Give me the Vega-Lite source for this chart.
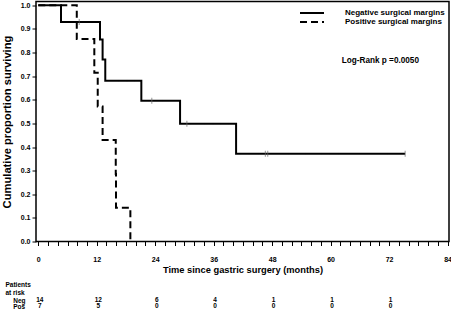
{
  "$schema": "https://vega.github.io/schema/vega-lite/v6.json",
  "padding": {"left": 0, "top": 0.5, "right": 0, "bottom": 0},
  "bounds": "flush",
  "spacing": 55.7,
  "config": {
    "font": "Liberation Sans",
    "view": {"stroke": null},
    "axis": {"labelFont": "Liberation Sans", "titleFont": "Liberation Sans", "labelFontWeight": "bold", "labelColor": "#000", "tickColor": "#000", "domainColor": "#000", "titleColor": "#000", "grid": false, "labelOverlap": false},
    "legend": {"labelFont": "Liberation Sans", "labelColor": "#000"}
  },
  "datasets": {
    "curves": [
      {"group": "Negative surgical margins", "month": 0, "surv": 1},
      {"group": "Negative surgical margins", "month": 4.66, "surv": 0.929},
      {"group": "Negative surgical margins", "month": 12.67, "surv": 0.855},
      {"group": "Negative surgical margins", "month": 13.2, "surv": 0.77},
      {"group": "Negative surgical margins", "month": 13.75, "surv": 0.681},
      {"group": "Negative surgical margins", "month": 21.15, "surv": 0.596},
      {"group": "Negative surgical margins", "month": 29.1, "surv": 0.498},
      {"group": "Negative surgical margins", "month": 40.6, "surv": 0.372},
      {"group": "Negative surgical margins", "month": 75.3, "surv": 0.372},
      {"group": "Positive surgical margins", "month": 0, "surv": 1},
      {"group": "Positive surgical margins", "month": 7.9, "surv": 0.857},
      {"group": "Positive surgical margins", "month": 11.5, "surv": 0.714},
      {"group": "Positive surgical margins", "month": 12.2, "surv": 0.571},
      {"group": "Positive surgical margins", "month": 13.2, "surv": 0.43},
      {"group": "Positive surgical margins", "month": 15.9, "surv": 0.286},
      {"group": "Positive surgical margins", "month": 15.95, "surv": 0.143},
      {"group": "Positive surgical margins", "month": 18.9, "surv": 0}
    ],
    "censors": [
      {"group": "Neg", "month": 8.4, "surv": 0.929},
      {"group": "Neg", "month": 23.3, "surv": 0.596},
      {"group": "Neg", "month": 30.5, "surv": 0.498},
      {"group": "Neg", "month": 46.6, "surv": 0.372},
      {"group": "Neg", "month": 47.1, "surv": 0.372},
      {"group": "Neg", "month": 75.3, "surv": 0.372}
    ],
    "risk": [
      {"group": "Neg", "month": 0, "n": 14},
      {"group": "Neg", "month": 12, "n": 12},
      {"group": "Neg", "month": 24, "n": 6},
      {"group": "Neg", "month": 36, "n": 4},
      {"group": "Neg", "month": 48, "n": 1},
      {"group": "Neg", "month": 60, "n": 1},
      {"group": "Neg", "month": 72, "n": 1},
      {"group": "Pos", "month": 0, "n": 7},
      {"group": "Pos", "month": 12, "n": 5},
      {"group": "Pos", "month": 24, "n": 0},
      {"group": "Pos", "month": 36, "n": 0},
      {"group": "Pos", "month": 48, "n": 0},
      {"group": "Pos", "month": 60, "n": 0},
      {"group": "Pos", "month": 72, "n": 0}
    ],
    "note": [
      {"label": "Log-Rank p =0.0050", "month": 62.3, "surv": 0.766}
    ]
  },
  "vconcat": [
    {
      "width": 413,
      "height": 240,
      "view": {"stroke": "#000", "strokeWidth": 1.5},
      "encoding": {
        "x": {
          "field": "month", "type": "quantitative",
          "scale": {"domain": [-0.47, 84.3], "nice": false, "zero": false},
          "axis": {
            "values": [0,2,4,6,8,10,12,14,16,18,20,22,24,26,28,30,32,34,36,38,40,42,44,46,48,50,52,54,56,58,60,62,64,66,68,70,72,74,76,78,80,82,84],
            "labelExpr": "datum.value % 12 === 0 ? datum.label : ''",
            "labelOverlap": false, "labelFlush": false,
            "tickSize": 4, "labelPadding": 9.5, "labelFontSize": 7,
            "domain": false,
            "title": "Time since gastric surgery (months)",
            "titleFontSize": 9.3, "titleFontWeight": "bold", "titlePadding": 3
          }
        },
        "y": {
          "field": "surv", "type": "quantitative",
          "scale": {"domain": [0, 1.016], "nice": false, "zero": false},
          "axis": {
            "values": [0,0.1,0.2,0.3,0.4,0.5,0.6,0.7,0.8,0.9,1],
            "format": ".1f",
            "labelOverlap": false,
            "tickSize": 4, "labelPadding": 2, "labelFontSize": 7,
            "domain": false,
            "title": "Cumulative proportion surviving",
            "titleFontSize": 11.2, "titleFontWeight": "bold", "titlePadding": 8
          }
        }
      },
      "layer": [
        {
          "data": {"name": "curves"},
          "mark": {"type": "line", "interpolate": "step-after", "strokeWidth": 2, "color": "#000"},
          "encoding": {
            "strokeDash": {
              "field": "group", "type": "nominal",
              "scale": {"domain": ["Negative surgical margins", "Positive surgical margins"], "range": [[1, 0], [7, 4]]},
              "legend": {
                "orient": "none", "legendX": 263, "legendY": 8, "title": null,
                "symbolType": "stroke", "symbolSize": 576, "symbolStrokeWidth": 2, "symbolStrokeColor": "#000",
                "labelFontSize": 8, "labelFontWeight": "bold", "labelOffset": 20, "clipHeight": 7, "rowPadding": 0
              }
            }
          }
        },
        {
          "data": {"name": "censors"},
          "mark": {"type": "tick", "orient": "vertical", "size": 6, "thickness": 1, "color": "#666"}
        },
        {
          "data": {"name": "note"},
          "mark": {"type": "text", "align": "left", "baseline": "middle", "fontSize": 8.2, "fontWeight": "bold", "color": "#000"},
          "encoding": {
            "text": {"field": "label"}
          }
        }
      ]
    },
    {
      "width": 413,
      "height": 12,
      "data": {"name": "risk"},
      "mark": {"type": "text", "fontWeight": "bold", "fontSize": 6.5, "dx": 1.5, "color": "#000"},
      "encoding": {
        "x": {"field": "month", "type": "quantitative", "scale": {"domain": [-0.47, 84.3], "nice": false, "zero": false}, "axis": null},
        "y": {
          "field": "group", "type": "nominal",
          "scale": {"domain": ["Neg", "Pos"], "paddingInner": 0, "paddingOuter": 0},
          "axis": {
            "domain": false, "ticks": false, "labelAlign": "left", "labelPadding": 23.3,
            "labelFontSize": 6.5, "labelFontWeight": "bold",
            "title": ["Patients", "at risk"], "titleAngle": 0, "titleAlign": "left", "titleBaseline": "alphabetic",
            "titleX": -31, "titleY": -10.4, "titleFontSize": 6.5, "titleFontWeight": "bold", "titleLineHeight": 7.5
          }
        },
        "text": {"field": "n", "type": "quantitative"}
      }
    }
  ]
}
